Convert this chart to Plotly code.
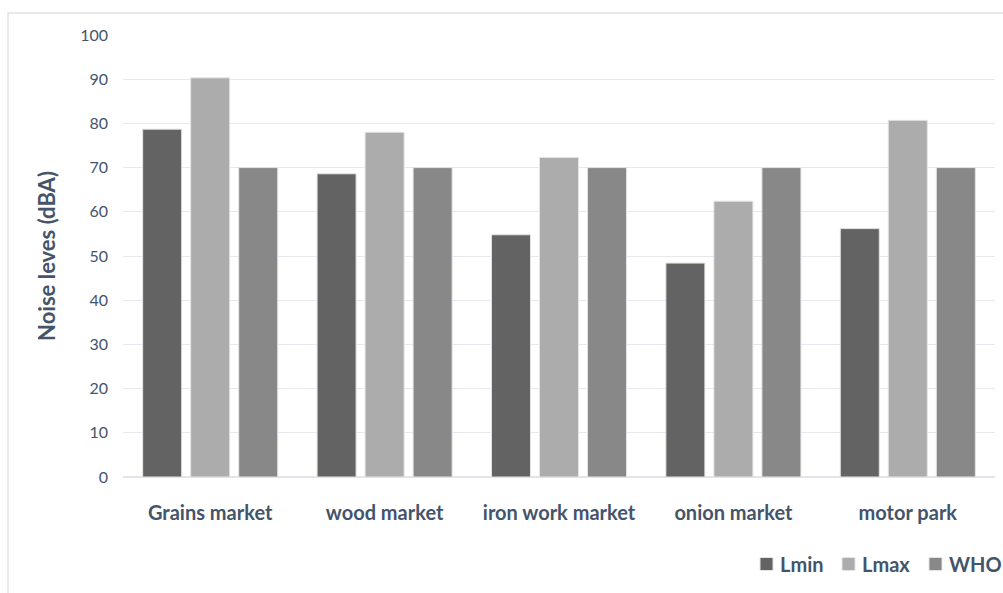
import plotly.graph_objects as go

categories = ["Grains market", "wood market", "iron work market", "onion market", "motor park"]
lmin = [78.7, 68.6, 54.8, 48.4, 56.2]
lmax = [90.3, 78.0, 72.3, 62.4, 80.7]
who = [70, 70, 70, 70, 70]
series_names = ["Lmin", "Lmax", "WHO"]
series_colors = ["#636363", "#acacac", "#888888"]
y_ticks = [0, 10, 20, 30, 40, 50, 60, 70, 80, 90, 100]

text_color = "#44546a"
fig = go.Figure()
for name, vals, col in zip(series_names, [lmin, lmax, who], series_colors):
    fig.add_trace(go.Bar(
        x=categories, y=vals, name=name,
        marker=dict(color=col, line=dict(color="#e4e4e4", width=1)),
    ))

W, H = 1003, 593
L, R, T, B = 123, 8, 35, 116
pw, ph = W - L - R, H - T - B


def px_x(p):
    return (p - L) / pw


def px_y(p):
    return (H - B - p) / ph


fig.update_layout(
    width=W, height=H,
    margin=dict(l=L, r=R, t=T, b=B, autoexpand=False),
    paper_bgcolor="white", plot_bgcolor="white",
    barmode="group", bargap=0.174, bargroupgap=0.1875,
    font=dict(family="Lato, Calibri, sans-serif", color=text_color),
    showlegend=False,
    xaxis=dict(showgrid=False, showline=False, ticks="",
               tickfont=dict(size=20, color=text_color, weight="bold"),
               ticklabelstandoff=22),
    yaxis=dict(range=[0, 100], tickvals=y_ticks, showgrid=True,
               gridcolor="#e5e9ef", gridwidth=1, zeroline=True,
               zerolinecolor="#e1e5ea", zerolinewidth=1.5,
               tickfont=dict(size=16, color=text_color), ticklabelstandoff=14,
               title=dict(text="Noise leves (dBA)", standoff=18,
                          font=dict(size=22, color=text_color, weight="bold"))),
)

# legend drawn at the reference position (bottom right, running to the edge)
legend_sq_left = [760, 842, 929]
legend_y = 564
for name, col, sx in zip(series_names, series_colors, legend_sq_left):
    fig.add_shape(type="rect", xref="paper", yref="paper",
                  x0=px_x(sx), x1=px_x(sx + 13),
                  y0=px_y(legend_y + 6.5), y1=px_y(legend_y - 6.5),
                  fillcolor=col, line=dict(color="#e4e4e4", width=1))
    fig.add_annotation(xref="paper", yref="paper", x=px_x(sx + 18), y=px_y(legend_y),
                       xanchor="left", yanchor="middle", showarrow=False,
                       text=name, font=dict(size=20, color=text_color, weight="bold"))

# outer chart frame (cropped by image edges on right/bottom)
fig.add_shape(type="rect", xref="paper", yref="paper",
              x0=px_x(8), x1=px_x(W + 20),
              y0=px_y(H + 20), y1=px_y(13),
              line=dict(color="#dfe3e8", width=1.5), layer="below")

fig.write_html("out.html")
